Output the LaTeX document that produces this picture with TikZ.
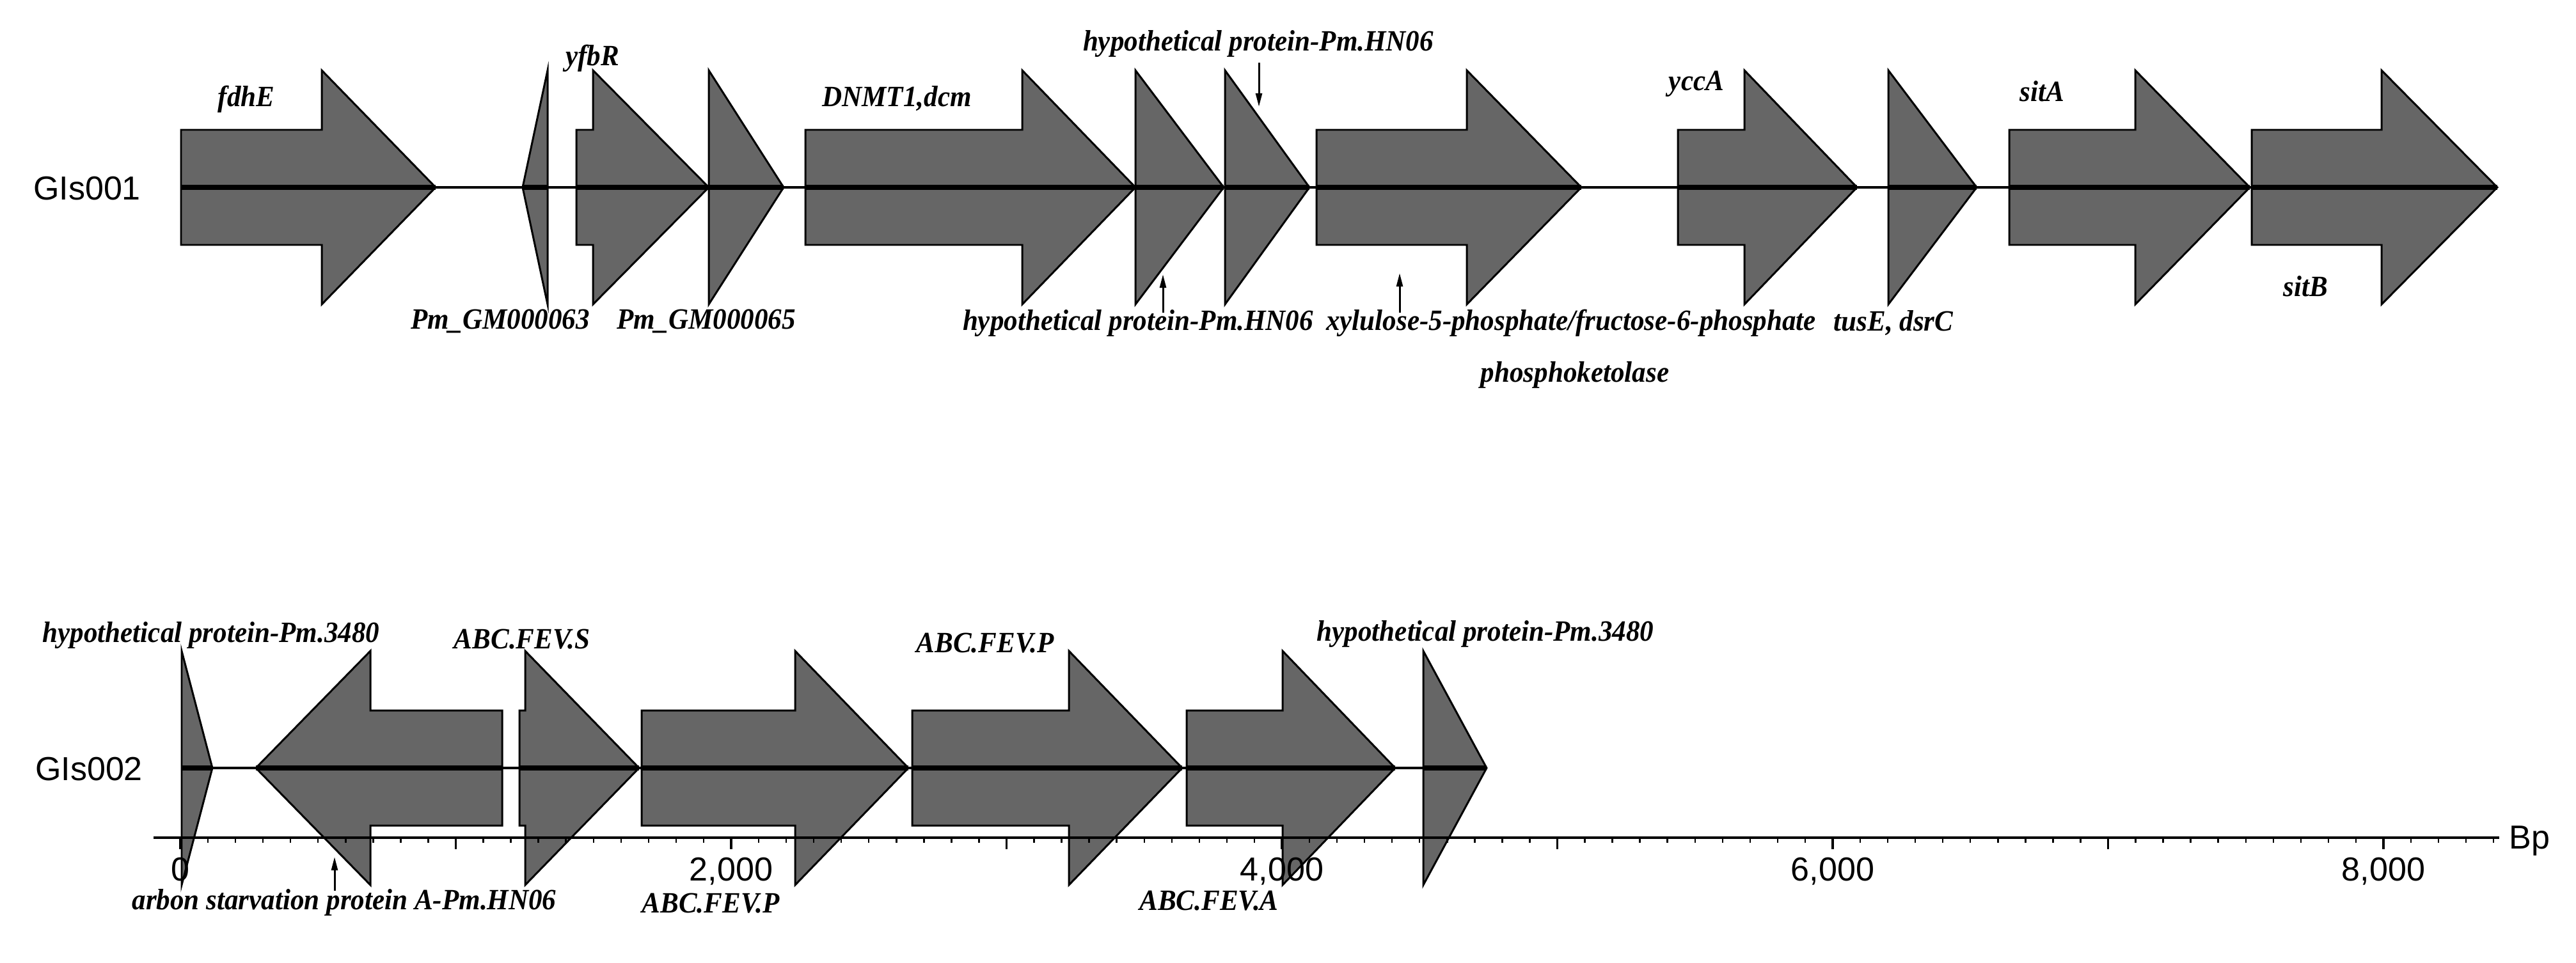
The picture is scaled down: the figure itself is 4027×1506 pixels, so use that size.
\documentclass[tikz,border=0pt]{standalone}
\usepackage{fontspec}
\setmainfont{Liberation Serif}
\newfontfamily\labelsans{Liberation Sans}
\newfontfamily\genefont[FakeStretch=0.935]{Liberation Serif}
\usetikzlibrary{arrows.meta}
\definecolor{GeneGray}{HTML}{666666}
\definecolor{GeneInk}{HTML}{000000}
\tikzset{
  genebody/.style={fill=GeneGray,draw=GeneInk,line width=0.85pt,line join=miter},
  genecore/.style={line width=2pt,draw=GeneInk},
  backbone/.style={line width=1.1pt,draw=GeneInk},
  genelabel/.style={font=\genefont\bfseries\itshape\fontsize{13.1}{15}\selectfont,inner sep=0pt,anchor=base},
  tracklabel/.style={font=\labelsans\fontsize{14.8}{17}\selectfont,inner sep=0pt,anchor=base},
  pointer/.style={-{Triangle[length=6pt,width=2.8pt]},line width=0.85pt,draw=GeneInk},
  axisline/.style={line width=0.95pt,draw=GeneInk},
  tickminor/.style={line width=0.7pt,draw=GeneInk},
  tickmajor/.style={line width=1.15pt,draw=GeneInk}
}

\begin{document}
\begin{tikzpicture}[x=0.01cm,y=-0.01cm]
\path[use as bounding box,fill=white] (0,0) rectangle (4027,1506);

% GIs001
\draw[backbone] (283,293) -- (3904,293);
\foreach \L/\H/\T in {283/503/681, 901/927/1108, 1259/1598/1775, 2058/2293/2472, 2623/2727/2903, 3141/3338/3517, 3520/3723/3904}{
  \draw[genebody] (\L,203) -- (\H,203) -- (\H,110) -- (\T,293) -- (\H,476) -- (\H,383) -- (\L,383) -- cycle;
  \draw[genecore] (\L,293) -- (\T,293);
}
\foreach \H/\T in {856/817, 1108/1225, 1775/1913, 1915/2047, 2952/3090}{
  \draw[genebody] (\H,110) -- (\T,293) -- (\H,476) -- cycle;
  \draw[genecore] (\H,293) -- (\T,293);
}

% GIs002
\draw[backbone] (284,1201) -- (2324,1201);
\foreach \L/\H/\T in {785/579/400, 812/821/999, 1003/1243/1420, 1426/1671/1848, 1855/2005/2181}{
  \draw[genebody] (\L,1111) -- (\H,1111) -- (\H,1018) -- (\T,1201) -- (\H,1384) -- (\H,1291) -- (\L,1291) -- cycle;
  \draw[genecore] (\L,1201) -- (\T,1201);
}
\foreach \H/\T in {284/332, 2225/2324}{
  \draw[genebody] (\H,1018) -- (\T,1201) -- (\H,1384) -- cycle;
  \draw[genecore] (\H,1201) -- (\T,1201);
}

% scale bar
\coordinate (axisL) at (240,1310);
\coordinate (axisR) at (3907,1310);
\draw[axisline] (axisL) -- (axisR);
\foreach \b in {0,100,...,8400}
  \draw[tickminor] (282+0.4305*\b,1310) -- ++(0,8);
\foreach \b in {1000,3000,5000,7000}
  \draw[tickminor] (282+0.4305*\b,1310) -- ++(0,18);
\foreach \b/\t in {0/0,2000/{2,000},4000/{4,000},6000/{6,000},8000/{8,000}}{
  \draw[tickmajor] (282+0.4305*\b,1310) -- ++(0,18);
  \node[tracklabel] (tick\b) at (282+0.4305*\b,1377) {\t};
}
\node[tracklabel,anchor=base west] (bp) at (3922,1327) {Bp};

% track names
\node[tracklabel] (gis1) at (136,312) {GIs001};
\node[tracklabel] (gis2) at (139,1220) {GIs002};

% gene names, GIs001
\node[genelabel] (fdhE) at (385,166) {fdhE};
\node[genelabel] (yfbR) at (926,102) {yfbR};
\node[genelabel] (pm63) at (782,514) {Pm\_GM000063};
\node[genelabel] (pm65) at (1104,514) {Pm\_GM000065};
\node[genelabel] (dnmt) at (1402,166) {DNMT1,dcm};
\node[genelabel] (hypHNa) at (1967,80) {hypothetical protein-Pm.HN06};
\node[genelabel] (hypHNb) at (1779,516) {hypothetical protein-Pm.HN06};
\node[genelabel] (xfp) at (2456,516) {xylulose-5-phosphate/fructose-6-phosphate};
\node[genelabel] (xfpb) at (2462,597) {phosphoketolase};
\node[genelabel] (tusE) at (2960,517) {tusE, dsrC};
\node[genelabel] (yccA) at (2652,141) {yccA};
\node[genelabel] (sitA) at (3192,158) {sitA};
\node[genelabel] (sitB) at (3604,463) {sitB};

% gene names, GIs002
\node[genelabel] (hyp34a) at (330,1004) {hypothetical protein-Pm.3480};
\node[genelabel] (fevS) at (816,1014) {ABC.FEV.S};
\node[genelabel] (fevPa) at (1111,1427) {ABC.FEV.P};
\node[genelabel] (fevPb) at (1540,1020) {ABC.FEV.P};
\node[genelabel] (fevA) at (1890,1423) {ABC.FEV.A};
\node[genelabel] (hyp34b) at (2322,1002) {hypothetical protein-Pm.3480};
\node[genelabel] (cstA) at (538,1422) {arbon starvation protein A-Pm.HN06};

% pointers
\coordinate (hypHNa_tail) at (1968,98);
\coordinate (hypHNa_tip) at (1968,167);
\coordinate (hypHNb_tail) at (1818,489);
\coordinate (hypHNb_tip) at (1818,429);
\coordinate (xfp_tail) at (2188,489);
\coordinate (xfp_tip) at (2188,427);
\coordinate (cstA_tail) at (523,1393);
\coordinate (cstA_tip) at (523,1340);
\draw[pointer] (hypHNa_tail) -- (hypHNa_tip);
\draw[pointer] (hypHNb_tail) -- (hypHNb_tip);
\draw[pointer] (xfp_tail) -- (xfp_tip);
\draw[pointer] (cstA_tail) -- (cstA_tip);
\end{tikzpicture}
\end{document}
